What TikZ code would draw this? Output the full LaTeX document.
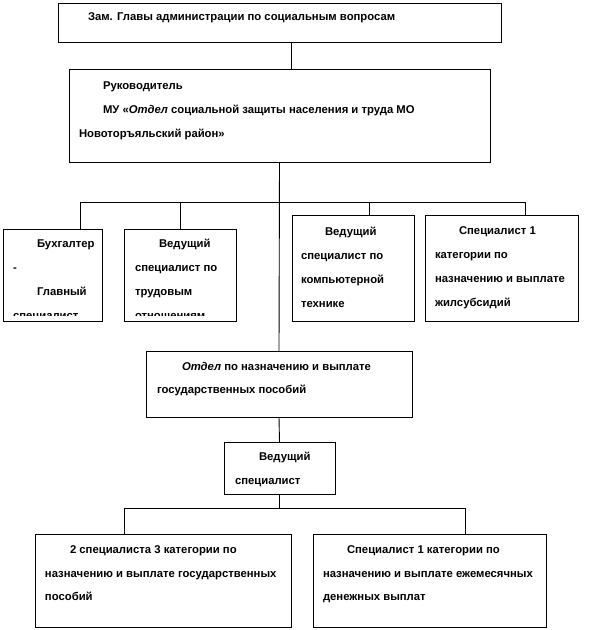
\documentclass[tikz,border=0pt]{standalone}
\usepackage{fontspec}
\setmainfont{Liberation Sans}
\begin{document}
\begin{tikzpicture}[x=1pt,y=-1pt,
  box/.style={draw, line width=0.9pt, anchor=north west, inner sep=0pt, outer sep=0pt},
  txt/.style={anchor=base west, inner sep=0pt, outer sep=0pt, font=\fontsize{11.3}{13}\selectfont\bfseries},
  conn/.style={line width=0.9pt}]
\useasboundingbox (0,0) rectangle (594,630);
% boxes
\node[box, minimum width=443pt, minimum height=39pt] (zam) at (58,3) {};
\node[box, minimum width=421pt, minimum height=93pt] (ruk) at (69,69) {};
\node[box, minimum width=99pt, minimum height=92pt] (buh) at (3,229) {};
\node[box, minimum width=112pt, minimum height=92pt] (trud) at (124,229) {};
\node[box, minimum width=122pt, minimum height=106pt] (comp) at (292,215) {};
\node[box, minimum width=153pt, minimum height=106pt] (zhil) at (425,215) {};
\node[box, minimum width=266pt, minimum height=66pt] (otdel) at (146,351) {};
\node[box, minimum width=111pt, minimum height=52pt] (ved) at (224,442) {};
\node[box, minimum width=256pt, minimum height=93pt] (gos) at (35,534) {};
\node[box, minimum width=233pt, minimum height=93pt] (ezh) at (313,534) {};
% helper coordinates
\coordinate (top) at (291,0);
\coordinate (b1) at (80,202);
\coordinate (b2) at (180,202);
\coordinate (b3) at (369,202);
\coordinate (b4) at (525,202);
\coordinate (c1) at (124,508);
\coordinate (c2) at (465,508);
% connectors
\draw[conn] (zam.south -| top) -- (ruk.north -| top);
\draw[conn] (ruk.south) -- (otdel.north);
\draw[conn] (b1) -- (b4);
\draw[conn] (b1) -- (b1 |- buh.north);
\draw[conn] (b2) -- (b2 |- trud.north);
\draw[conn] (b3) -- (b3 |- comp.north);
\draw[conn] (b4) -- (b4 |- zhil.north);
\draw[conn] (otdel.south) -- (ved.north);
\draw[conn] (ved.south) -- (ved.south |- c1);
\draw[conn] (c1) -- (c2);
\draw[conn] (c1) -- (c1 |- gos.north);
\draw[conn] (c2) -- (c2 |- ezh.north);
% texts
\node[txt] (zamt) at (88,20) {Зам. Главы администрации по социальным вопросам};
\node[txt] (rukt1) at (103,89) {Руководитель};
\node[txt] (rukt2) at (103,113) {МУ «\textit{Отдел} социальной защиты населения и труда МО};
\node[txt] (rukt3) at (79,137) {Новоторъяльский район»};
\begin{scope}
\clip (0,0) rectangle (594,315.5);
\node[txt] (buht1) at (37,247) {Бухгалтер};
\node[txt] (buht2) at (13,271) {-};
\node[txt] (buht3) at (37,295) {Главный};
\node[txt] (buht4) at (13,319) {специалист};
\node[txt] (trudt1) at (159,247) {Ведущий};
\node[txt] (trudt2) at (135,271) {специалист по};
\node[txt] (trudt3) at (135,295) {трудовым};
\node[txt] (trudt4) at (135,319) {отношениям};
\end{scope}
\node[txt] (compt1) at (325,235) {Ведущий};
\node[txt] (compt2) at (301,259) {специалист по};
\node[txt] (compt3) at (301,283) {компьютерной};
\node[txt] (compt4) at (301,307) {технике};
\node[txt] (zhilt1) at (459,234) {Специалист 1};
\node[txt] (zhilt2) at (435,258) {категории по};
\node[txt] (zhilt3) at (435,282) {назначению и выплате};
\node[txt] (zhilt4) at (435,306) {жилсубсидий};
\node[txt] (otdelt1) at (182,370) {\textit{Отдел} по назначению и выплате};
\node[txt] (otdelt2) at (157,393) {государственных пособий};
\node[txt] (vedt1) at (259,460) {Ведущий};
\node[txt] (vedt2) at (235,484) {специалист};
\node[txt] (gost1) at (70,553) {2 специалиста 3 категории по};
\node[txt] (gost2) at (45,577) {назначению и выплате государственных};
\node[txt] (gost3) at (45,600) {пособий};
\node[txt] (ezht1) at (347,553) {Специалист 1 категории по};
\node[txt] (ezht2) at (323,577) {назначению и выплате ежемесячных};
\node[txt] (ezht3) at (323,600) {денежных выплат};
\end{tikzpicture}
\end{document}
